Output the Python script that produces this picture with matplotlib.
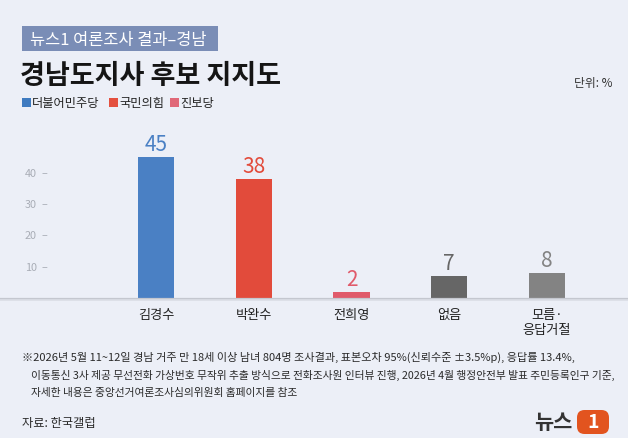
import matplotlib
matplotlib.use("Agg")
import matplotlib.pyplot as plt
from matplotlib.patches import Rectangle, FancyBboxPatch
import matplotlib.transforms as mtransforms

plt.rcParams['font.family'] = ['Noto Sans CJK KR', 'DejaVu Sans']

categories = ["김경수", "박완수", "전희영", "없음", "모름·\n응답거절"]
values = [45, 38, 2, 7, 8]
bar_colors = ["#4a80c4", "#e24b3b", "#e05a6a", "#666666", "#838383"]
yticks = [10, 20, 30, 40]
legend_labels = ["더불어민주당", "국민의힘", "진보당"]
legend_colors = ["#3f7bc0", "#e4503f", "#e06878"]

title_badge = "뉴스1 여론조사 결과–경남"
title = "경남도지사 후보 지지도"
unit = "단위: %"
notes = [
    "※2026년 5월 11~12일 경남 거주 만 18세 이상 남녀 804명 조사결과, 표본오차 95%(신뢰수준 ±3.5%p), 응답률 13.4%,",
    "이동통신 3사 제공 무선전화 가상번호 무작위 추출 방식으로 전화조사원 인터뷰 진행, 2026년 4월 행정안전부 발표 주민등록인구 기준,",
    "자세한 내용은 중앙선거여론조사심의위원회 홈페이지를 참조",
]
source = "자료: 한국갤럽"

BG = "#eceff7"
W, H = 628, 439
fig = plt.figure(figsize=(W / 100, H / 100), dpi=100, facecolor=BG)

def fx(px):
    return px / W

def fy(py):
    return 1 - py / H

# chart axes: baseline at y=299px, 45 -> y=158px
base_px = 299
top_px = 130
ax = fig.add_axes([0, fy(base_px), 1, (base_px - top_px) / H])
ax.set_facecolor("none")
ax.set_xlim(-1.596, 4.829)
ax.set_ylim(0, (base_px - top_px) / 3.13)
for s in ax.spines.values():
    s.set_visible(False)
ax.set_xticks([])
ax.set_yticks([])

x = list(range(len(values)))
ax.bar(x, values, width=0.37, color=bar_colors, zorder=3)
for xi, v, c in zip(x, values, bar_colors):
    ax.text(xi, v + 0.6, str(v), ha="center", va="bottom", fontsize=15,
            color=c, zorder=4)

trans = mtransforms.blended_transform_factory(ax.transAxes, ax.transData)
for t in yticks:
    ax.text(fx(37), t, f"{t}", ha="right", va="center", fontsize=7.8,
            color="#a9adb6", transform=trans)
    ax.text(fx(41), t, "–", ha="left", va="center", fontsize=7.8,
            color="#a9adb6", transform=trans)

# baseline
fig.add_artist(plt.Line2D([0, 1], [fy(299.5), fy(299.5)], color="#c4c7cf", lw=1.6))
fig.add_artist(plt.Line2D([0, 1], [fy(301.2), fy(301.2)], color="#dcdfe7", lw=1.2))

# category labels
for xi, lab in zip(x, categories):
    ax.text(xi, -3.2, lab, ha="center", va="top", fontsize=9.5,
            color="#222222", linespacing=1.2, clip_on=False)

# badge
fig.add_artist(Rectangle((fx(22), fy(52)), fx(196), (52 - 27) / H,
                         facecolor="#7a8db6", edgecolor="none"))
fig.text(fx(30), fy(40), title_badge, ha="left", va="center", fontsize=11.8,
         color="#ffffff")
# title
fig.text(fx(20), fy(76), title, ha="left", va="center", fontsize=19.5,
         fontweight="bold", color="#151515")
fig.text(fx(612), fy(83), unit, ha="right", va="center", fontsize=8.5,
         color="#333333")

# legend
lx_positions = [22, 109, 170]
for lab, c, lx in zip(legend_labels, legend_colors, lx_positions):
    fig.add_artist(Rectangle((fx(lx), fy(108)), fx(9), 9 / H,
                             facecolor=c, edgecolor="none"))
    fig.text(fx(lx + 10), fy(103.5), lab, ha="left", va="center",
             fontsize=8.8, color="#222222")

# notes
fig.text(fx(22), fy(357), notes[0], ha="left", va="center", fontsize=8.0,
         color="#2a2a2a")
fig.text(fx(31), fy(375), notes[1], ha="left", va="center", fontsize=7.75,
         color="#2a2a2a")
fig.text(fx(31), fy(393), notes[2], ha="left", va="center", fontsize=7.75,
         color="#2a2a2a")
fig.text(fx(22), fy(424), source, ha="left", va="center", fontsize=8.8,
         color="#2a2a2a")

# logo
fig.text(fx(572), fy(423), "뉴스", ha="right", va="center", fontsize=15,
         fontweight="bold", style="italic", color="#333333")
fig.add_artist(FancyBboxPatch((fx(577), fy(435)), fx(32), 24 / H,
                              boxstyle="round,pad=0,rounding_size=0.012",
                              facecolor="#e2541f", edgecolor="none",
                              mutation_aspect=W / H))
fig.text(fx(593), fy(423), "1", ha="center", va="center", fontsize=14,
         fontweight="bold", style="italic", color="#ffffff")

fig.savefig("out.png", dpi=100, facecolor=BG)
